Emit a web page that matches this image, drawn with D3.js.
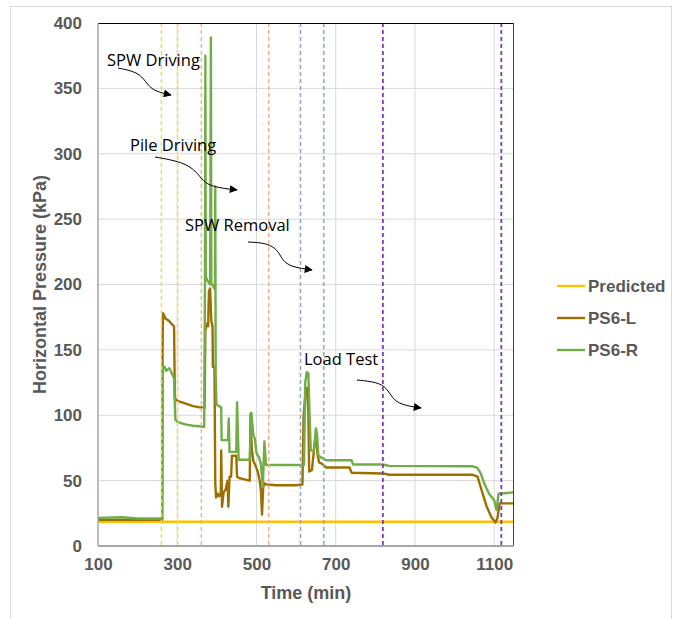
<!DOCTYPE html>
<html><head><meta charset="utf-8">
<script src="https://cdn.jsdelivr.net/npm/d3@7"></script>
<style>body{margin:0;background:#fff}</style>
</head><body>
<svg id="chart" width="681" height="619"></svg>
<script>
// ---------- data ----------
const xTicks = [100, 300, 500, 700, 900, 1100];
const yTicks = [0, 50, 100, 150, 200, 250, 300, 350, 400];
const seriesNames = ["Predicted", "PS6-L", "PS6-R"];
const predicted = [[100, 18.5], [1150, 18.5]];
const ps6L = [[100,20],[180,20],[262,20],[263,150],[264,178],[266,177],[270,174],[280,172],[285,170],[292,168],[294,113],[300,111],[320,109],[340,107],[357,106],[369,106],[371,165],[374,170],[378,168],[380,195],[383,197],[386,172],[389,168],[390,137],[394,137],[396,48],[398,37],[402,40],[406,38],[410,41],[411,73],[413,30],[417,41],[422,43],[427,50],[429,30],[432,53],[436,53],[438,69],[449,69],[451,53],[456,52],[470,51],[483,50],[485,101],[488,75],[492,65],[497,62],[503,57],[508,50],[511,43],[514,24],[517,45],[520,48],[525,47],[550,46.5],[600,46.5],[616,47],[619,100],[624,118],[628,121],[631,100],[633,57],[640,58],[646,76],[651,87],[654,70],[658,64],[665,63],[676,60],[735,60],[740,56],[819,55.5],[835,54.5],[1044,54.5],[1058,53],[1068,43],[1080,31],[1093,22],[1103,18],[1108,21],[1111,27],[1114,32.6],[1150,32.6]];
const ps6R = [[100,21.5],[160,22],[200,21],[262,21],[263,120],[264,138],[268,137],[272,134],[280,136],[288,131],[292,128],[295,97],[300,95],[320,93],[340,92],[357,91.6],[368,91],[370,204],[371,375],[372,206],[378,202],[383,200],[385,389],[386,201],[392,198],[395,196],[396,275],[397,130],[399,108],[411,106],[412,81],[428,81],[430,97.5],[432,72],[449,72],[451,110],[455,66],[483,66],[487,102],[492,85],[496,82],[500,71],[506,68],[511,63],[516,45],[520,80],[524,62],[529,62],[620,62],[623,125],[627,133],[631,132],[634,100],[637,73],[645,73],[650,90],[653,85],[656,69.5],[662,68],[676,65.6],[740,65.6],[744,62.3],[819,62.3],[835,61.3],[1044,61],[1057,60],[1066,55.5],[1075,47.8],[1087,40],[1100,35],[1106,27.5],[1109,35],[1111,40],[1150,41]];
const phaseNames = ["SPW Driving", "Pile Driving", "SPW Removal", "Load Test"];
const phaseTimes = [[260, 301], [361, 531], [611, 670], [819, 1118]];

// ---------- layout ----------
const svg = d3.select("#chart");
const plot = {l: 98, r: 514, t: 23, b: 546};
const x = d3.scaleLinear().domain([100, 1150]).range([plot.l, plot.r]);
const y = d3.scaleLinear().domain([0, 400]).range([plot.b, plot.t]);
const gray = "#595959";
const fontB = "'Liberation Sans', Arial, sans-serif";

svg.append("rect").attr("x", 10.5).attr("y", 6.5).attr("width", 661).attr("height", 700)
  .attr("fill", "#fff").attr("stroke", "#D9D9D9");

// gridlines
svg.append("g").selectAll("line").data(yTicks.filter(d => d > 0 && d < 400)).join("line")
  .attr("x1", plot.l).attr("x2", plot.r).attr("y1", d => y(d)).attr("y2", d => y(d))
  .attr("stroke", "#D9D9D9").attr("stroke-width", 1);
svg.append("g").selectAll("line").data(xTicks.filter(d => d > 100)).join("line")
  .attr("x1", d => x(d)).attr("x2", d => x(d)).attr("y1", plot.t).attr("y2", plot.b)
  .attr("stroke", "#D9D9D9").attr("stroke-width", 1);

// series
const line = d3.line().x(d => x(d[0])).y(d => y(d[1]));
const seriesColors = ["#FFC000", "#9C7000", "#70AD47"];
[predicted, ps6L, ps6R].forEach((s, i) => {
  svg.append("path").datum(s).attr("d", line).attr("fill", "none")
    .attr("stroke", seriesColors[i]).attr("stroke-width", 2.4).attr("stroke-linejoin", "round");
});

// phase dashed lines
const phaseColors = ["#FFD34F", "#F6AE88", "#8EA5C4", "#7A3AB5"];
phaseTimes.forEach((pair, i) => {
  svg.append("g").selectAll("line").data(pair).join("line")
    .attr("x1", d => x(d)).attr("x2", d => x(d)).attr("y1", plot.t).attr("y2", plot.b)
    .attr("stroke", phaseColors[i]).attr("stroke-width", i === 3 ? 1.8 : 1.5)
    .attr("stroke-dasharray", "4,3");
});

// plot border / axes
svg.append("line").attr("x1", plot.l).attr("x2", plot.r).attr("y1", plot.t + 0.5).attr("y2", plot.t + 0.5).attr("stroke", "#000");
svg.append("line").attr("x1", plot.r - 0.5).attr("x2", plot.r - 0.5).attr("y1", plot.t).attr("y2", plot.b).attr("stroke", "#404040");
svg.append("line").attr("x1", plot.l).attr("x2", plot.l).attr("y1", plot.t).attr("y2", plot.b).attr("stroke", "#A6A6A6").attr("stroke-width", 1.5);
svg.append("line").attr("x1", plot.l).attr("x2", plot.r).attr("y1", plot.b).attr("y2", plot.b).attr("stroke", "#A6A6A6").attr("stroke-width", 2);

// axes labels via d3 axes
const yAxis = svg.append("g").attr("transform", `translate(${plot.l},0)`)
  .call(d3.axisLeft(y).tickValues(yTicks).tickFormat(d3.format("d")).tickSize(0).tickPadding(16));
const xAxis = svg.append("g").attr("transform", `translate(0,${plot.b})`)
  .call(d3.axisBottom(x).tickValues(xTicks).tickFormat(d3.format("d")).tickSize(0).tickPadding(12));
[yAxis, xAxis].forEach(a => {
  a.select(".domain").remove();
  a.selectAll("text").attr("fill", gray).style("font-family", fontB)
    .style("font-weight", "bold").style("font-size", "17px");
});

svg.append("text").attr("x", (plot.l + plot.r) / 2).attr("y", 599).attr("text-anchor", "middle")
  .attr("fill", gray).style("font-family", fontB).style("font-weight", "bold").style("font-size", "18px")
  .text("Time (min)");
svg.append("text").attr("transform", `translate(46,${(plot.t + plot.b) / 2}) rotate(-90)`)
  .attr("text-anchor", "middle").attr("fill", gray).style("font-family", fontB)
  .style("font-weight", "bold").style("font-size", "18px").text("Horizontal Pressure (kPa)");

// legend
const lg = svg.append("g");
seriesNames.forEach((n, i) => {
  const yy = 286 + i * 32;
  lg.append("line").attr("x1", 557).attr("x2", 585).attr("y1", yy).attr("y2", yy)
    .attr("stroke", seriesColors[i]).attr("stroke-width", 2.4);
  lg.append("text").attr("x", 588).attr("y", yy + 6).attr("fill", gray)
    .style("font-family", fontB).style("font-weight", "bold").style("font-size", "17px").text(n);
});

// annotations
const annoFont = "'Open Sans', 'Noto Sans', sans-serif";
const annoPos = [
  {tx: 107, ty: 66, pts: [[118,68],[138,72],[146,82],[153,91],[171,95]]},
  {tx: 130, ty: 151, pts: [[155,157],[183,162],[196,171],[203,181],[212,187],[237,190]]},
  {tx: 185, ty: 231, pts: [[248,242],[267,243],[278,250],[282,260],[291,267],[312,270]]},
  {tx: 304, ty: 365, pts: [[357,380],[377,382],[387,388],[392,398],[401,405],[421,408]]}
];
svg.append("defs").append("marker").attr("id", "ah").attr("viewBox", "0 0 10 10")
  .attr("refX", 9).attr("refY", 5).attr("markerWidth", 9).attr("markerHeight", 8)
  .attr("markerUnits", "userSpaceOnUse").attr("orient", "auto")
  .append("path").attr("d", "M0,0 L10,5 L0,10 Z").attr("fill", "#000");
const curve = d3.line().curve(d3.curveBasis);
phaseNames.forEach((n, i) => {
  const a = annoPos[i];
  svg.append("text").attr("x", a.tx).attr("y", a.ty).attr("fill", "#000")
    .style("font-family", annoFont).style("font-size", "16.5px").text(n);
  svg.append("path").attr("d", curve(a.pts)).attr("fill", "none").attr("stroke", "#000")
    .attr("stroke-width", 1).attr("marker-end", "url(#ah)");
});
</script>
</body></html>
